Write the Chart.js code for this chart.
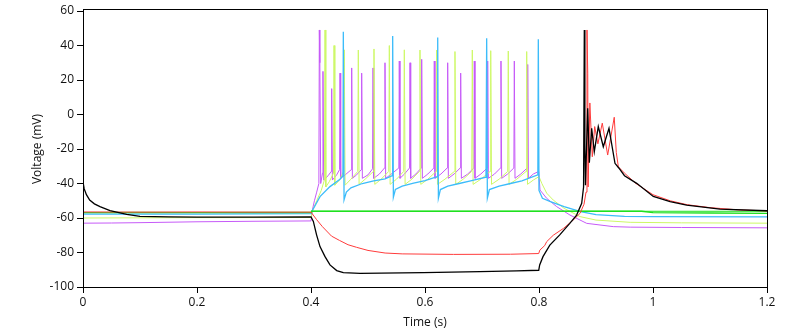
<!DOCTYPE html>
<html>
<head>
<meta charset="utf-8">
<script src="https://cdn.jsdelivr.net/npm/chart.js@4/dist/chart.umd.min.js"></script>
<style>
  html, body { margin: 0; padding: 0; background: #fff; }
  canvas { display: block; }
</style>
</head>
<body>
<canvas id="traceChart" width="792" height="336"></canvas>
<script>
// 时间 (s) / 电压 (mV) 数据点
const blackTrace = [
    [0, -39], [0.002, -43], [0.006, -46.5], [0.0117, -49.6], [0.02, -51.8], [0.0298, -53.4], [0.0474, -55.7],
    [0.0766, -57.9], [0.1, -59], [0.15, -59.4], [0.2, -59.5], [0.3, -59.5], [0.4, -59.3],
    [0.4041, -62], [0.4099, -69.9], [0.4158, -76.6], [0.4246, -82.4], [0.4333, -87.2], [0.4451, -90.5],
    [0.4567, -91.7], [0.486, -92.1], [0.5972, -91.7], [0.6965, -91.1], [0.7609, -90.7], [0.7995, -90.3],
    [0.8012, -87.2], [0.807, -82.4], [0.819, -75.7], [0.836, -69.9], [0.854, -63.1], [0.866, -58.3],
    [0.8749, -51.5], [0.8782, -42], [0.8795, 49], [0.8805, -20], [0.8815, -41], [0.8854, 3.6], [0.8883, -28],
    [0.8924, -8], [0.897, -21.5], [0.904, -7], [0.9128, -18.7], [0.9228, -8], [0.9333, -28.3], [0.94, -31],
    [0.95, -35.5], [0.9714, -39.9], [1.0005, -47.5], [1.03, -50.5], [1.059, -52.5], [1.1175, -54.8], [1.2, -55.8]
];

const redTrace = [
    [0, -56.5], [0.1, -56.6], [0.2, -56.5], [0.3, -56.6], [0.4, -56.6],
    [0.41, -61], [0.42, -65], [0.436, -70.5], [0.45, -73], [0.465, -75.5], [0.48, -77], [0.5, -78.8],
    [0.53, -80.3], [0.56, -80.8], [0.65, -81.1], [0.75, -81], [0.7995, -80.6],
    [0.8015, -78.6], [0.81, -76], [0.8135, -73.7], [0.825, -70], [0.843, -66], [0.86, -61.2], [0.872, -57.3],
    [0.879, -52], [0.8825, -45], [0.8842, 49], [0.8855, 24], [0.8862, -42], [0.8892, 6.7], [0.8935, -24.5],
    [0.8977, -7], [0.9033, -17], [0.911, -5], [0.9205, -23.5], [0.932, -1.6], [0.9356, -22], [0.9392, -30.3],
    [0.95, -34], [0.97, -40], [1.0, -46.5], [1.03, -50], [1.06, -52.3], [1.1, -54], [1.15, -55.3], [1.2, -55.9]
];

const greenTrace = [
    [0, -56.9], [0.1, -56.8], [0.2, -56.9], [0.3, -56.8], [0.4, -56.8], [0.401, -56.1],
    [0.98, -56.1], [1.0, -56.9], [1.1, -57.1], [1.2, -57.3]
];

const greenFlat = [[0.4, -56.1], [1.2, -56.1]];

const cyanTrace = [
    [0, -57.8], [0.1, -57.8], [0.2, -57.7], [0.3, -57.6], [0.4, -57.5],
    [0.401, -56.5], [0.4158, -47.6], [0.4333, -41.8], [0.4509, -37.6], [0.456, -35.5], [0.4567, 48],
    [0.458, -49.5], [0.462, -45], [0.47, -42.5], [0.49, -40], [0.51, -38.5], [0.53, -37.3], [0.5425, -35.5],
    [0.5433, 45.5], [0.5445, -48], [0.548, -43.5], [0.56, -41.5], [0.58, -39.8], [0.6, -38.3], [0.6215, -36],
    [0.6223, 44.7], [0.6235, -48.5], [0.627, -43.5], [0.64, -41.5], [0.66, -40], [0.68, -38.5], [0.707, -36.3],
    [0.7082, 44.2], [0.7094, -48.5], [0.713, -43.5], [0.73, -41.5], [0.75, -40], [0.77, -38.5], [0.798, -35],
    [0.7988, 43.6], [0.8, -44],
    [0.806, -48.6], [0.82, -50.5], [0.844, -53.4], [0.873, -56.3], [0.9, -58], [0.95, -59], [1.0, -59.2], [1.2, -59.4]
];

const limeTrace = [
    [0, -60], [0.1, -59.9], [0.2, -59.8], [0.3, -59.8], [0.4, -59.7],
    [0.401, -57], [0.41, -50], [0.418, -44], [0.4235, -38], [0.4246, 49], [0.426, -42], [0.432, -39],
    [0.4395, -34], [0.4404, 40], [0.4418, -41], [0.45, -38], [0.4575, -33], [0.4584, 37.5], [0.4598, -41],
    [0.47, -37.5], [0.482, -33], [0.483, 37.4], [0.4844, -40.5], [0.495, -37.5], [0.5095, -33], [0.5105, 38],
    [0.5119, -40.5], [0.523, -37.5], [0.5364, -33], [0.5374, 40], [0.5388, -40.5], [0.55, -37.5], [0.5627, -33],
    [0.5637, 37.5], [0.5651, -40.5], [0.577, -37.5], [0.5902, -33], [0.5912, 37.4], [0.5926, -40.5], [0.605, -37.5],
    [0.6195, -33], [0.6205, 37.4], [0.6219, -40.5], [0.635, -37.5], [0.6516, -33], [0.6526, 36.5], [0.654, -40.5],
    [0.667, -37.5], [0.682, -33], [0.683, 37.4], [0.6844, -40.5], [0.698, -37.5], [0.7143, -33], [0.7153, 37],
    [0.7167, -40.5], [0.73, -37.5], [0.7451, -33], [0.7461, 36.8], [0.7475, -40.5], [0.761, -37.5], [0.7774, -33],
    [0.7784, 36.5], [0.7798, -40.5], [0.79, -38], [0.8, -36],
    [0.805, -40], [0.8135, -45.6], [0.825, -49.6], [0.844, -54.4], [0.872, -59.2], [0.9, -61.2], [0.96, -62.5],
    [1.05, -62.8], [1.2, -63]
];

const magentaTrace = [
    [0, -63], [0.05, -62.9], [0.1, -62.7], [0.2, -62.2], [0.3, -61.9], [0.4, -61.7],
    [0.402, -56], [0.406, -50], [0.41, -45], [0.4138, -40], [0.4146, 49], [0.4155, 30], [0.417, -40],
    [0.4202, -34], [0.421, 25], [0.4222, -38], [0.43, -35.5], [0.4355, -33], [0.4363, 15], [0.4375, -38],
    [0.445, -35], [0.4501, -32], [0.4509, 24], [0.4521, -37], [0.46, -35], [0.4706, -32], [0.4714, 27],
    [0.4726, -37], [0.48, -35], [0.4881, -32], [0.4889, 24], [0.4901, -37], [0.5, -35], [0.508, -31.5],
    [0.5088, 27], [0.51, -37], [0.52, -34.5], [0.529, -31], [0.5298, 30], [0.531, -37], [0.543, -34],
    [0.5541, -31], [0.5549, 31], [0.5561, -37], [0.564, -34.5], [0.5729, -31], [0.5737, 30], [0.5749, -37],
    [0.584, -34.5], [0.5934, -31], [0.5942, 32], [0.5954, -37], [0.605, -34.5], [0.6155, -31], [0.6163, 31],
    [0.6175, -37], [0.628, -34.5], [0.639, -31], [0.6398, 30], [0.641, -37], [0.651, -34.5], [0.6618, -31],
    [0.6626, 24], [0.6638, -37], [0.675, -34.5], [0.6857, -31], [0.6865, 31], [0.6877, -37], [0.698, -34.5],
    [0.7092, -31], [0.71, 31], [0.7112, -37], [0.722, -34.5], [0.7325, -31], [0.7333, 31], [0.7345, -37],
    [0.745, -34.5], [0.7559, -31], [0.7567, 31], [0.7579, -37], [0.768, -34.5], [0.7794, -31], [0.7802, 29],
    [0.7814, -37], [0.79, -34.5], [0.7995, -33],
    [0.8018, -43.8], [0.8135, -48.6], [0.831, -53.4], [0.8544, -58.3], [0.8837, -63.1], [0.9304, -65],
    [0.96, -65.3], [1.05, -65.5], [1.2, -65.7]
];

// 坐标轴刻度
const xTicks = [0, 0.2, 0.4, 0.6, 0.8, 1, 1.2];
const yTicks = [-100, -80, -60, -40, -20, 0, 20, 40, 60];

// 四周边框
const framePlugin = {
    id: 'frame',
    afterDraw(chart) {
        const { ctx, chartArea: a } = chart;
        ctx.save();
        ctx.strokeStyle = '#000';
        ctx.lineWidth = 1;
        ctx.strokeRect(Math.round(a.left) + 0.5, Math.round(a.top) - 1.5, Math.round(a.width), Math.round(a.height) + 2);
        ctx.restore();
    }
};

function toPoints(pairs) {
    return pairs.map(p => ({ x: p[0], y: p[1] }));
}

function trace(data, color, order, width) {
    return {
        data: toPoints(data),
        borderColor: color,
        borderWidth: width || 1,
        pointRadius: 0,
        tension: 0,
        fill: false,
        order: order
    };
}

document.addEventListener('DOMContentLoaded', () => {
    const ctx = document.getElementById('traceChart').getContext('2d');
    const tickFont = { family: '"Open Sans", "Liberation Sans", sans-serif', size: 12 };

    new Chart(ctx, {
        type: 'line',
        data: {
            datasets: [
                trace(blackTrace, '#000000', 0, 1.3),
                trace(redTrace, '#ff3b3b', 1),
                trace(greenTrace, '#1fe01f', 2, 1.3),
                trace(greenFlat, '#1fe01f', 2),
                trace(cyanTrace, '#3cbcfa', 3, 1.3),
                trace(limeTrace, '#cdf866', 4),
                trace(magentaTrace, '#c65af8', 5)
            ]
        },
        options: {
            responsive: false,
            animation: false,
            events: [],
            layout: { padding: { left: 0, top: 11, right: 25, bottom: 0 } },
            plugins: { legend: { display: false }, tooltip: { enabled: false } },
            scales: {
                x: {
                    type: 'linear',
                    min: 0,
                    max: 1.2,
                    afterBuildTicks: scale => { scale.ticks = xTicks.map(v => ({ value: v })); },
                    afterFit: scale => { scale.height = 49; },
                    grid: { display: true, drawOnChartArea: false, drawTicks: true, tickLength: 6, color: '#000' },
                    border: { display: true, color: '#000', width: 1 },
                    ticks: {
                        color: '#111',
                        font: tickFont,
                        padding: 2,
                        maxRotation: 0,
                        autoSkip: false,
                        callback: v => String(v)
                    },
                    title: {
                        display: true,
                        text: 'Time (s)',
                        color: '#111',
                        font: tickFont,
                        padding: { top: 0, bottom: 6 }
                    }
                },
                y: {
                    type: 'linear',
                    min: -100,
                    max: 60,
                    afterBuildTicks: scale => { scale.ticks = yTicks.map(v => ({ value: v })); },
                    afterFit: scale => { scale.width = 83; },
                    grid: { display: true, drawOnChartArea: false, drawTicks: true, tickLength: 6, color: '#000' },
                    border: { display: true, color: '#000', width: 1 },
                    ticks: { color: '#111', font: tickFont, padding: 3, autoSkip: false },
                    title: {
                        display: true,
                        text: 'Voltage (mV)',
                        color: '#111',
                        font: tickFont,
                        padding: { top: 30, bottom: 0 }
                    }
                }
            }
        },
        plugins: [framePlugin]
    });
});
</script>
</body>
</html>
